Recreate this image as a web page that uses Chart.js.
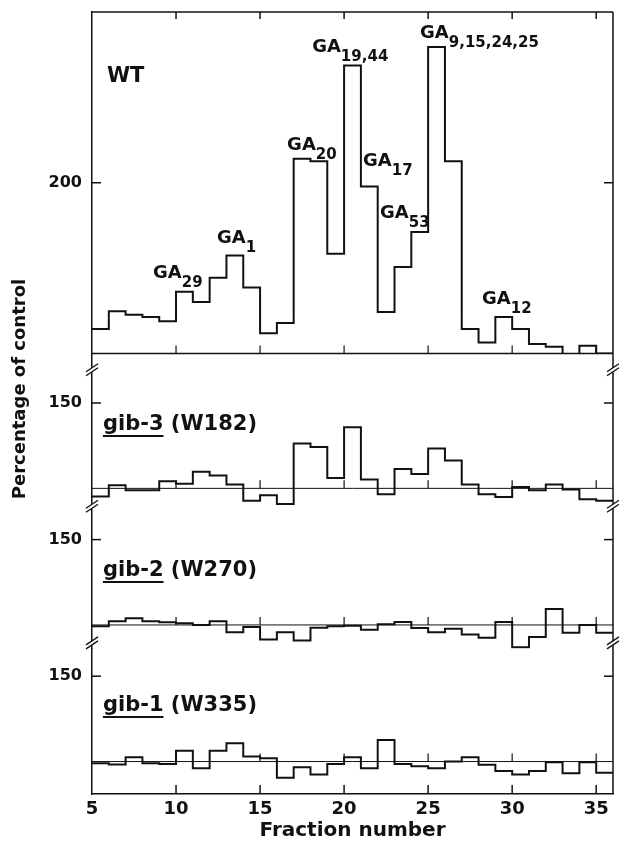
<!DOCTYPE html>
<html>
<head>
<meta charset="utf-8">
<script src="https://cdn.jsdelivr.net/npm/chart.js@4.4.1/dist/chart.umd.min.js"></script>
<style>
  html, body { margin: 0; padding: 0; background: #fff; }
  #wrap { width: 619px; height: 847px; position: relative; }
</style>
</head>
<body>
<div id="wrap"><canvas id="chart"></canvas></div>
<script>
// Fraction numbers (each bin spans [f, f+1])
const fractions = [5, 6, 7, 8, 9, 10, 11, 12, 13, 14, 15, 16, 17, 18, 19, 20,
                   21, 22, 23, 24, 25, 26, 27, 28, 29, 30, 31, 32, 33, 34, 35];

// Percentage of control
const wt = [114.4, 124.7, 122.7, 121.3, 118.9, 136.1, 130.2, 144.4, 157.4, 138.6, 111.8,
            117.8, 214.0, 212.6, 158.4, 268.6, 197.8, 124.3, 150.7, 171.2, 279.5, 212.6,
            114.4, 106.5, 121.3, 114.4, 105.5, 104.0, 98.2, 104.6, 100.0];
const gib3 = [95.2, 101.9, 98.9, 98.9, 104.2, 102.7, 109.8, 107.5, 102.3, 92.7, 96.0,
              90.8, 126.3, 124.3, 106.1, 135.8, 105.2, 96.6, 111.3, 108.4, 123.4, 116.3,
              102.3, 96.6, 95.0, 100.8, 98.9, 102.3, 99.4, 93.7, 92.7];
const gib2 = [99.2, 102.2, 104.0, 102.2, 101.6, 101.0, 100.0, 102.2, 95.8, 98.8, 91.5,
              95.8, 90.9, 98.4, 99.2, 99.5, 97.2, 100.4, 101.8, 98.2, 95.8, 97.8,
              94.4, 92.5, 101.8, 86.9, 92.9, 109.3, 95.4, 100.0, 95.5];
const gib1 = [99.0, 98.3, 102.5, 99.0, 98.6, 106.4, 96.1, 106.4, 110.7, 102.9, 101.9,
              90.5, 96.7, 92.4, 98.6, 102.5, 96.1, 112.6, 98.6, 97.3, 96.1, 100.0,
              102.5, 98.1, 94.4, 92.4, 94.4, 99.6, 93.2, 99.6, 93.5];

const xTicks = [5, 10, 15, 20, 25, 30, 35];
const innerTicks = [10, 15, 20, 25, 30, 35];

// GA peak labels on the WT trace
const gaSubs = ['29', '1', '20', '19,44', '17', '53', '9,15,24,25', '12'];
const gaFraction = [8.63, 12.44, 16.61, 18.10, 21.13, 22.14, 24.52, 28.21];
const gaValue = [144.0, 164.5, 219.4, 276.5, 209.6, 179.2, 284.7, 129.2];

const strains = ['gib-3', 'gib-2', 'gib-1'];
const alleles = ['(W182)', '(W270)', '(W335)'];

const INK = '#111';
const FONT = 'DejaVu Sans';
Chart.defaults.font.family = FONT;
Chart.defaults.color = INK;

// stacked panels, bottom first (Chart.js places the last one on top)
const panels = [
  { id: 'yG1', min: 81, max: 166, tick: 150, values: gib1, name: 2, nameAt: 129.6 },
  { id: 'yG2', min: 86, max: 169, tick: 150, values: gib2, name: 1, nameAt: 128.7 },
  { id: 'yG3', min: 89, max: 179, tick: 150, values: gib3, name: 0, nameAt: 134.2 },
  { id: 'yWT', min: 100, max: 300, tick: 200, values: wt },
];

function stepData(vals) {
  const pts = fractions.map((f, i) => ({ x: f, y: vals[i] }));
  pts.push({ x: fractions[fractions.length - 1] + 1, y: vals[vals.length - 1] });
  return pts;
}

const scales = {
  x: {
    type: 'linear', min: 5, max: 36, position: 'bottom',
    grid: { display: false, drawTicks: false },
    border: { display: true, color: INK, width: 1.5 },
    ticks: { color: INK, font: { size: 18, weight: 'bold' }, padding: 5 },
    afterBuildTicks: s => { s.ticks = xTicks.map(v => ({ value: v })); },
    title: { display: true, text: 'Fraction number', color: INK,
             font: { size: 20, weight: 'bold' }, padding: { top: 0, bottom: 4 } },
    afterFit: s => { s.height = 53; s.paddingLeft = 0; s.paddingRight = 0; },
  },
};
panels.forEach(p => {
  scales[p.id] = {
    type: 'linear', position: 'left', stack: 'panels', stackWeight: p.max - p.min,
    min: p.min, max: p.max,
    grid: { display: false, drawTicks: false },
    border: { display: true, color: INK, width: 1.5 },
    ticks: { color: INK, font: { size: 16, weight: 'bold' }, padding: 10 },
    afterBuildTicks: s => { s.ticks = [{ value: p.tick }]; },
    afterFit: s => { s.width = 92; s.paddingTop = 0; s.paddingBottom = 0; },
  };
});

function line(ctx, x1, y1, x2, y2) {
  ctx.beginPath(); ctx.moveTo(x1, y1); ctx.lineTo(x2, y2); ctx.stroke();
}

function breakMark(ctx, x, y) {
  ctx.fillStyle = '#fff';
  ctx.beginPath();
  ctx.moveTo(x - 6, y + 2); ctx.lineTo(x + 6, y - 6);
  ctx.lineTo(x + 6, y - 2); ctx.lineTo(x - 6, y + 6);
  ctx.closePath(); ctx.fill();
  ctx.lineWidth = 1.3;
  line(ctx, x - 6, y + 2, x + 6, y - 6);
  line(ctx, x - 6, y + 6, x + 6, y - 2);
}

const decor = {
  id: 'decor',
  afterDatasetsDraw(chart) {
    const { ctx, chartArea: a, scales: sc } = chart;
    const x = sc.x;
    ctx.save();
    ctx.strokeStyle = INK;
    ctx.fillStyle = INK;

    // frame top and right
    ctx.lineWidth = 1.5;
    line(ctx, a.left, a.top, a.right, a.top);
    line(ctx, a.right, a.top, a.right, a.bottom);

    // inward ticks on top and bottom
    innerTicks.forEach(v => {
      const px = x.getPixelForValue(v);
      line(ctx, px, a.top, px, a.top + 7);
      line(ctx, px, a.bottom, px, a.bottom - 9);
    });

    panels.forEach(p => {
      const y = sc[p.id];
      const base = y.getPixelForValue(100);
      ctx.lineWidth = p.id === 'yWT' ? 1.5 : 1;
      line(ctx, a.left, base, a.right, base);
      ctx.lineWidth = 1.2;
      innerTicks.forEach(v => {
        const px = x.getPixelForValue(v);
        line(ctx, px, base, px, base - 8);
      });
      const ty = y.getPixelForValue(p.tick);
      ctx.lineWidth = 1.5;
      line(ctx, a.left, ty, a.left + 9, ty);
      line(ctx, a.right, ty, a.right - 9, ty);
      if (p.id !== 'yWT') {
        const by = y.getPixelForValue(169.5);
        breakMark(ctx, a.left, by);
        breakMark(ctx, a.right, by);
      }
    });

    // texts
    ctx.fillStyle = INK;
    ctx.textBaseline = 'alphabetic';
    ctx.textAlign = 'left';
    const yw = sc.yWT;
    ctx.font = 'bold 21px ' + FONT;
    ctx.fillText('WT', x.getPixelForValue(5.89), yw.getPixelForValue(258.9));

    gaSubs.forEach((s, i) => {
      const px = x.getPixelForValue(gaFraction[i]);
      const py = yw.getPixelForValue(gaValue[i]);
      ctx.font = 'bold 18px ' + FONT;
      ctx.fillText('GA', px, py);
      const w = ctx.measureText('GA').width;
      ctx.font = 'bold 15px ' + FONT;
      ctx.fillText(s, px + w, py + 9);
    });

    panels.forEach(p => {
      if (p.name === undefined) return;
      const px = x.getPixelForValue(5.65);
      const py = sc[p.id].getPixelForValue(p.nameAt);
      ctx.font = 'bold 21px ' + FONT;
      const s = strains[p.name];
      ctx.fillText(s, px, py);
      const w = ctx.measureText(s).width;
      ctx.fillText(' ' + alleles[p.name], px + w, py);
      ctx.lineWidth = 2;
      line(ctx, px, py + 6, px + w, py + 6);
    });

    // shared y title
    ctx.save();
    ctx.translate(25, (a.top + a.bottom) / 2 - 14);
    ctx.rotate(-Math.PI / 2);
    ctx.textAlign = 'center';
    ctx.font = 'bold 18px ' + FONT;
    ctx.fillText('Percentage of control', 0, 0);
    ctx.restore();

    ctx.restore();
  },
};

new Chart(document.getElementById('chart'), {
  type: 'line',
  data: {
    datasets: panels.map(p => ({
      data: stepData(p.values),
      yAxisID: p.id,
      stepped: true,
      borderColor: INK,
      borderWidth: 2,
      pointRadius: 0,
      fill: false,
    })),
  },
  options: {
    responsive: true,
    maintainAspectRatio: false,
    animation: false,
    layout: { padding: { left: 0, right: 6, top: 12, bottom: 0 } },
    plugins: { legend: { display: false }, tooltip: { enabled: false } },
    scales,
  },
  plugins: [decor],
});
</script>
</body>
</html>
